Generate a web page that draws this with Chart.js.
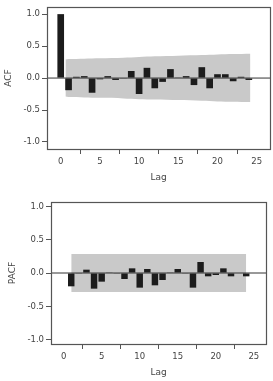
<!DOCTYPE html>
<html>
<head>
<meta charset="utf-8">
<script src="https://cdn.jsdelivr.net/npm/chart.js@4/dist/chart.umd.min.js"></script>
<style>
  html, body { margin: 0; padding: 0; background: #fff; }
  body { width: 273px; height: 381px; position: relative; overflow: hidden; }
  .box { position: absolute; left: 0; }
  #top { top: 0; }
  #bot { top: 190px; }
</style>
</head>
<body>
<div class="box" id="top"><canvas id="acf" width="273" height="190"></canvas></div>
<div class="box" id="bot"><canvas id="pacf" width="273" height="191"></canvas></div>
<script>
const xTicks = [0, 5, 10, 15, 20, 25];
const yTicks = [-1, -0.5, 0, 0.5, 1];

// ACF
const acfLags = [0, 1, 2, 3, 4, 5, 6, 7, 8, 9, 10, 11, 12, 13, 14, 15, 16, 17, 18, 19, 20, 21, 22, 23, 24];
const acfValues = [1.0, -0.19, 0.02, 0.03, -0.23, -0.02, 0.03, -0.03, -0.01, 0.11, -0.25, 0.16, -0.16, -0.06, 0.14, 0.01, 0.03, -0.11, 0.17, -0.16, 0.06, 0.06, -0.05, 0.02, -0.03];
const acfBandLags = [0.6, 1, 3, 5, 8, 10, 12, 15, 18, 20, 22, 24.2];
const acfBandHigh = [0.29, 0.297, 0.303, 0.31, 0.318, 0.33, 0.34, 0.35, 0.36, 0.37, 0.375, 0.38];
const acfBandLow = [-0.29, -0.297, -0.303, -0.31, -0.318, -0.33, -0.335, -0.345, -0.355, -0.365, -0.37, -0.375];

// PACF
const pacfLags = [1, 2, 3, 4, 5, 6, 7, 8, 9, 10, 11, 12, 13, 14, 15, 16, 17, 18, 19, 20, 21, 22, 23, 24];
const pacfValues = [-0.2, -0.01, 0.05, -0.235, -0.13, 0.01, -0.01, -0.09, 0.07, -0.22, 0.06, -0.185, -0.105, 0.01, 0.06, -0.01, -0.22, 0.165, -0.05, -0.03, 0.07, -0.05, 0.0, -0.05];
const pacfBandLags = [1, 24];
const pacfBandHigh = [0.285, 0.285];
const pacfBandLow = [-0.285, -0.285];

const txt = '#444';
const font = { family: 'DejaVu Sans', size: 8.5 };

const frame = {
  id: 'frame',
  afterDraw(chart) {
    const a = chart.chartArea, c = chart.ctx;
    c.save();
    c.strokeStyle = '#555';
    c.lineWidth = 1.2;
    c.strokeRect(Math.round(a.left) + 0.5, Math.round(a.top) + 0.5, Math.round(a.right - a.left), Math.round(a.bottom - a.top));
    c.restore();
  }
};

function pts(xs, ys) { return xs.map((x, i) => ({ x: x, y: ys[i] })); }

function makeChart(id, o) {
  return new Chart(document.getElementById(id), {
    type: 'bar',
    data: {
      datasets: [
        { type: 'bar', data: pts(o.lags, o.values), backgroundColor: '#1c1c1c', borderWidth: 0,
          barPercentage: 1, categoryPercentage: 0.85, order: 0 },
        { type: 'line', data: [{ x: o.xmin, y: 0 }, { x: o.xmax, y: 0 }], borderColor: '#333',
          borderWidth: 1, pointRadius: 0, fill: false, order: 1 },
        { type: 'line', data: pts(o.bandLags, o.bandHigh), borderWidth: 0, borderColor: 'rgba(0,0,0,0)',
          pointRadius: 0, tension: 0.3, fill: '+1', backgroundColor: '#c9c9c9', order: 2 },
        { type: 'line', data: pts(o.bandLags, o.bandLow), borderWidth: 0, borderColor: 'rgba(0,0,0,0)',
          pointRadius: 0, tension: 0.3, fill: false, order: 3 }
      ]
    },
    options: {
      responsive: false,
      animation: false,
      layout: { padding: { top: o.padTop, right: o.padRight, left: 0, bottom: 0 } },
      plugins: { legend: { display: false }, tooltip: { enabled: false } },
      scales: {
        x: {
          type: 'linear', min: o.xmin, max: o.xmax, offset: false,
          afterBuildTicks: s => { s.ticks = xTicks.map(v => ({ value: v })); },
          afterFit: s => { s.height = o.xH; },
          grid: { drawOnChartArea: false, drawTicks: true, tickLength: 5, tickColor: '#555', lineWidth: 1 },
          border: { display: false },
          ticks: { color: txt, font: font, padding: 3, maxRotation: 0 },
          title: { display: true, text: 'Lag', color: txt, font: { family: 'DejaVu Sans', size: 9 },
                   padding: { top: 0, bottom: o.xTitlePad } }
        },
        y: {
          min: o.ymin, max: o.ymax,
          afterBuildTicks: s => { s.ticks = yTicks.map(v => ({ value: v })); },
          afterFit: s => { s.width = o.yW; },
          grid: { drawOnChartArea: false, drawTicks: true, tickLength: 5, tickColor: '#555', lineWidth: 1 },
          border: { display: false },
          ticks: { color: txt, font: font, padding: 2, callback: v => v.toFixed(1) },
          title: { display: true, text: o.title, color: txt, font: { family: 'DejaVu Sans', size: 9 },
                   padding: { top: o.yTitlePad, bottom: 0 } }
        }
      }
    },
    plugins: [frame]
  });
}

makeChart('acf', {
  lags: acfLags, values: acfValues, bandLags: acfBandLags, bandHigh: acfBandHigh, bandLow: acfBandLow,
  xmin: -1.75, xmax: 26.7, ymin: -1.11, ymax: 1.11,
  padTop: 7, padRight: 3, xH: 41, yW: 47, xTitlePad: 7, yTitlePad: 3, title: 'ACF'
});

makeChart('pacf', {
  lags: pacfLags, values: pacfValues, bandLags: pacfBandLags, bandHigh: pacfBandHigh, bandLow: pacfBandLow,
  xmin: -1.66, xmax: 26.6, ymin: -1.066, ymax: 1.066,
  padTop: 12, padRight: 7, xH: 37, yW: 51, xTitlePad: 3, yTitlePad: 7, title: 'PACF'
});
</script>
</body>
</html>
